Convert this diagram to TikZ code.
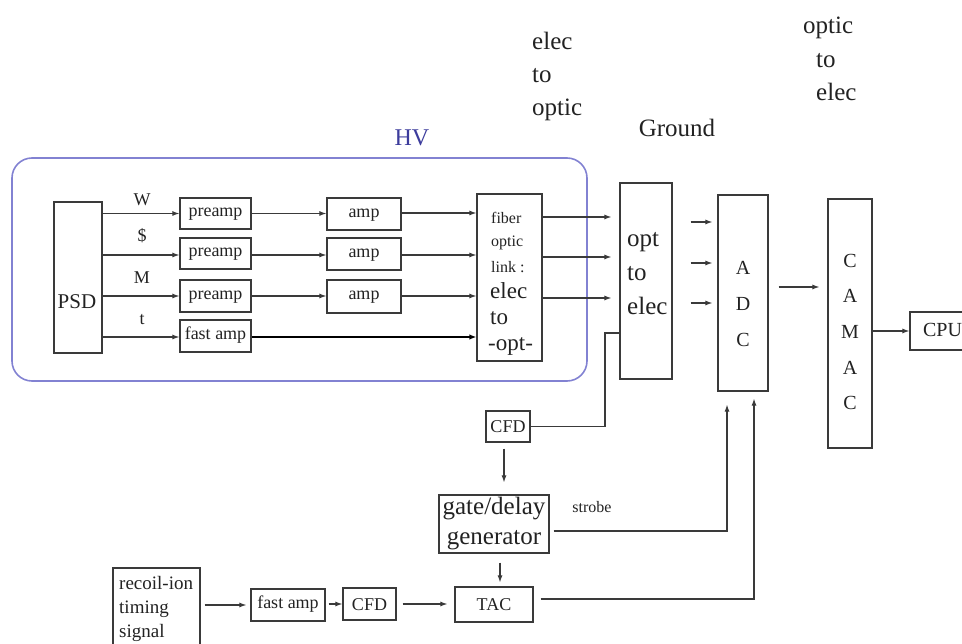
\documentclass[tikz,border=0pt]{standalone}
\usepackage{fontspec}
\setmainfont{Liberation Serif}
\usetikzlibrary{arrows.meta}
\definecolor{lnc}{HTML}{3A3A3A}
\definecolor{txc}{HTML}{222222}
\definecolor{hvc}{HTML}{8282D2}
\definecolor{hvt}{HTML}{3C3C9C}
\newcommand{\fsz}[2]{\fontsize{#1}{#2}\selectfont}
\begin{document}
\begin{tikzpicture}[x=1pt,y=-1pt,
  box/.style={draw=lnc, line width=1.2pt, inner sep=0pt, text=txc, font=\fsz{18}{18}, text height=10pt, text depth=3pt},
  capbox/.style={box, text height=12pt, text depth=0pt},
  txt/.style={inner sep=0pt, text=txc},
  arr/.style={draw=lnc, line width=1.1pt, -{Latex[length=7pt,width=5pt]}},
  wire/.style={draw=lnc, line width=1.1pt}]
\useasboundingbox (0,0) rectangle (962,644);
% HV region
\draw[hvc, line width=1.6pt, rounded corners=20pt] (12,158) rectangle (587,381);
\node[txt, text=hvt, font=\fsz{24}{24}] (hv) at (412,138) {HV};
% top labels
\node[txt, font=\fsz{25}{33}, align=left, anchor=west] (e2o) at (532,76) {elec\\to\\optic};
\node[txt, font=\fsz{25}{25}] (gnd) at (677,128) {Ground};
\node[txt, font=\fsz{25}{33.5}, align=left, anchor=west] (o2e) at (803,59) {optic\\\hspace{13pt}to\\\hspace{13pt}elec};
% PSD
\node[box, minimum width=48pt, minimum height=151pt] (psd) at (78,277.5) {};
\node[txt, font=\fsz{21}{21}] (psdt) at (77,302) {PSD};
\node[txt, font=\fsz{18}{18}] (lw) at (142,200) {W};
\node[txt, font=\fsz{18}{18}] (ls) at (142,236) {\$};
\node[txt, font=\fsz{18}{18}] (lm) at (142,278) {M};
\node[txt, font=\fsz{18}{18}] (lt) at (142,320) {t};
% preamps
\node[box, minimum width=71pt, minimum height=31pt] (p1) at (215.5,213.5) {preamp};
\node[box, minimum width=71pt, minimum height=31pt] (p2) at (215.5,253.5) {preamp};
\node[box, minimum width=71pt, minimum height=32pt] (p3) at (215.5,296) {preamp};
\node[box, minimum width=71pt, minimum height=32pt] (fa1) at (215.5,336) {fast amp};
% amps
\node[box, minimum width=74pt, minimum height=32pt] (a1) at (364,214) {amp};
\node[box, minimum width=74pt, minimum height=32pt] (a2) at (364,254) {amp};
\node[box, minimum width=74pt, minimum height=33pt] (a3) at (364,296.5) {amp};
% fiber optic link
\node[box, minimum width=65pt, minimum height=167pt] (fib) at (509.5,277.5) {};
\node[txt, font=\fsz{16}{16}, anchor=west] (f1) at (491,218) {fiber};
\node[txt, font=\fsz{16}{16}, anchor=west] (f2) at (491,243) {optic};
\node[txt, font=\fsz{16}{16}, anchor=west] (f3) at (491,267) {link :};
\node[txt, font=\fsz{23}{23}, anchor=west] (f4) at (490,291) {elec};
\node[txt, font=\fsz{23}{23}, anchor=west] (f5) at (490,318) {to};
\node[txt, font=\fsz{23}{23}, anchor=west] (f6) at (488,346) {-opt-};
% ground side
\node[box, minimum width=52pt, minimum height=196pt] (opt) at (646,281) {};
\node[txt, font=\fsz{25}{34}, align=left, anchor=west] (optt) at (627,274) {opt\\to\\elec};
\node[box, minimum width=50pt, minimum height=196pt] (adc) at (743,293) {};
\node[txt, font=\fsz{20}{36}, align=center] (adct) at (743,304) {A\\D\\C};
\node[box, minimum width=44pt, minimum height=249pt] (cam) at (850,323.5) {};
\node[txt, font=\fsz{20}{35.7}, align=center] (camt) at (850,332) {C\\A\\M\\A\\C};
\node[capbox, minimum width=65pt, minimum height=38pt, font=\fsz{20}{20}] (cpu) at (942.5,331) {CPU};
% timing chain
\node[capbox, minimum width=44pt, minimum height=31pt] (cfd1) at (508,426.5) {CFD};
\node[box, minimum width=110pt, minimum height=58pt, font=\fsz{25}{30}, align=center, text height=, text depth=] (gate) at (494,524) {gate/delay\\generator};
\node[txt, font=\fsz{16}{16}] (strobe) at (592,507) {strobe};
\node[capbox, minimum width=78pt, minimum height=35pt] (tac) at (494,604.5) {TAC};
\node[box, minimum width=87pt, minimum height=92pt] (rec) at (156.5,614) {};
\node[txt, font=\fsz{19}{24}, align=left, anchor=west] (rect) at (119,609) {recoil-ion\\timing\\signal};
\node[box, minimum width=74pt, minimum height=32pt] (fa2) at (288,605) {fast amp};
\node[capbox, minimum width=53pt, minimum height=32pt] (cfd2) at (369.5,604) {CFD};
% PSD -> preamps
\draw[arr] (p1.west -| psd.east) -- (p1.west);
\draw[arr] (psd.east |- 0,255) -- (p2.west |- 0,255);
\draw[arr] (p3.west -| psd.east) -- (p3.west);
\draw[arr] (psd.east |- 0,337) -- (fa1.west |- 0,337);
% preamps -> amps
\draw[arr] (p1.east) -- (a1.west |- p1.east);
\draw[arr] (p2.east |- 0,255) -- (a2.west |- 0,255);
\draw[arr] (p3.east) -- (a3.west |- p3.east);
% amps -> fiber
\draw[arr] (a1.east |- 0,213) -- (fib.west |- 0,213);
\draw[arr] (a2.east |- 0,255) -- (fib.west |- 0,255);
\draw[arr] (a3.east |- 0,296) -- (fib.west |- 0,296);
\draw[draw=black, line width=2.2pt, -{Latex[length=7pt,width=5.5pt]}] (fa1.east |- 0,337) -- (fib.west |- 0,337);
% fiber -> opt
\draw[arr, shorten >=8pt] (fib.east |- 0,217) -- (opt.west |- 0,217);
\draw[arr, shorten >=8pt] (fib.east |- 0,257) -- (opt.west |- 0,257);
\draw[arr, shorten >=8pt] (fib.east |- 0,298) -- (opt.west |- 0,298);
% opt -> adc
\draw[arr, shorten <=18pt, shorten >=5pt] (opt.east |- 0,222) -- (adc.west |- 0,222);
\draw[arr, shorten <=18pt, shorten >=5pt] (opt.east |- 0,263) -- (adc.west |- 0,263);
\draw[arr, shorten <=18pt, shorten >=5pt] (opt.east |- 0,303) -- (adc.west |- 0,303);
% adc -> camac -> cpu
\draw[arr, shorten <=10pt, shorten >=8pt] (adc.east |- 0,287) -- (cam.west |- 0,287);
\draw[arr] (cam.east |- cpu.west) -- (cpu.west);
% opt -> CFD
\coordinate (oc) at (605,333);
\draw[wire] (opt.west |- oc) -- (oc) |- (cfd1.east);
% CFD -> gate -> TAC
\draw[arr, shorten <=6pt, shorten >=12pt] ([xshift=-4pt]cfd1.south) -- ([xshift=-4pt]cfd1.south |- gate.north);
\draw[arr, shorten <=9pt, shorten >=4pt] ([xshift=6pt]gate.south) -- ([xshift=6pt]gate.south |- tac.north);
% gate -> ADC (strobe), TAC -> ADC
\coordinate (g2) at (727,531);
\draw[arr, shorten >=13pt] ([xshift=4pt]gate.east |- g2) -- (g2) -- (g2 |- adc.south);
\coordinate (t2) at (754,599);
\draw[arr, shorten >=7pt] ([xshift=7pt]tac.east |- t2) -- (t2) -- (t2 |- adc.south);
% recoil chain
\draw[arr, shorten <=4pt, shorten >=4pt] (fa2.west -| rec.east) -- (fa2.west);
\draw[arr, shorten <=3pt] (fa2.east |- cfd2.west) -- (cfd2.west);
\draw[arr, shorten <=6pt, shorten >=7pt] (cfd2.east) -- (tac.west |- cfd2.east);
\end{tikzpicture}
\end{document}
